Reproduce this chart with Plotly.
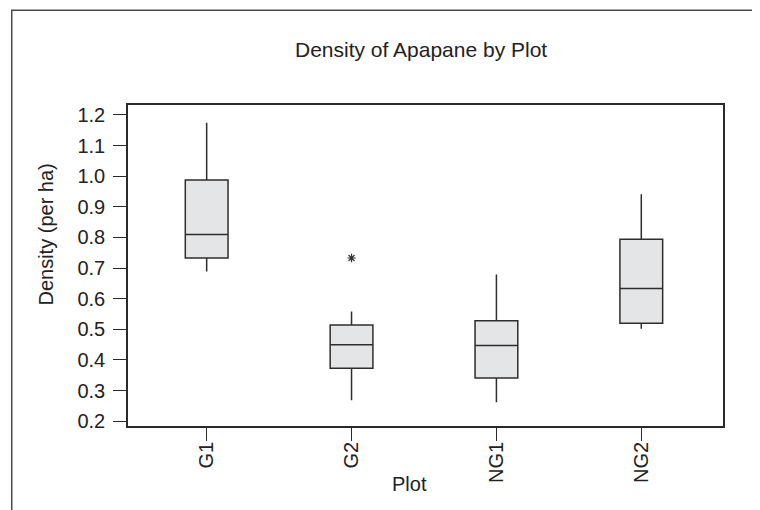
import plotly.graph_objects as go

# Data
plots = ["G1", "G2", "NG1", "NG2"]
lower_whisker = [0.689, 0.268, 0.262, 0.502]
q1_values = [0.733, 0.373, 0.341, 0.520]
median_values = [0.810, 0.450, 0.447, 0.633]
q3_values = [0.988, 0.514, 0.528, 0.794]
upper_whisker = [1.175, 0.558, 0.679, 0.941]
outlier_plots = ["G2"]
outlier_values = [0.733]
y_ticks = [0.2, 0.3, 0.4, 0.5, 0.6, 0.7, 0.8, 0.9, 1.0, 1.1, 1.2]

FONT = "Liberation Sans, Arial, Helvetica, sans-serif"
OFF = 8  # page body margin
W, H = 760 - OFF, 510 - OFF
# plot frame in page pixels
FL, FR, FT, FB = 128.3, 723.5, 105, 426.5
L, T = FL - OFF, FT - OFF
R, B = W - (FR - OFF), H - (FB - OFF)
pw, ph = W - L - R, H - T - B

def px_x(x):
    return (x - OFF - L) / pw

def px_y(y):
    return (H - B - (y - OFF)) / ph

fig = go.Figure()
fig.add_trace(go.Box(
    x=plots,
    q1=q1_values,
    median=median_values,
    q3=q3_values,
    lowerfence=lower_whisker,
    upperfence=upper_whisker,
    width=0.295,
    fillcolor="#e4e5e7",
    line=dict(color="#2e2e2e", width=1.5),
    whiskerwidth=0,
    boxpoints=False,
    hoverinfo="skip",
    showlegend=False,
))
fig.add_trace(go.Scatter(
    x=outlier_plots,
    y=outlier_values,
    mode="markers",
    marker=dict(symbol="asterisk-open", size=7, color="#333333",
                line=dict(color="#333333", width=1.2)),
    hoverinfo="skip",
    showlegend=False,
))

fig.update_layout(
    width=W, height=H,
    margin=dict(l=L, r=R, t=T, b=B, pad=0),
    paper_bgcolor="white",
    plot_bgcolor="white",
    font=dict(family=FONT, color="#222222", size=20),
    xaxis=dict(
        type="category",
        categoryorder="array",
        categoryarray=plots,
        range=[-0.543, 3.564],
        showline=True, mirror=True, linecolor="#2a2a2a", linewidth=1.6,
        showgrid=False, zeroline=False,
        ticks="outside", ticklen=13, tickwidth=1.2, tickcolor="#2a2a2a",
        tickangle=-90,
        tickfont=dict(size=20, family=FONT, color="#222222"),
        ticklabelstandoff=-7,
    ),
    yaxis=dict(
        range=[0.1843, 1.2326],
        tickvals=y_ticks,
        ticktext=[f"{v:.1f}" for v in y_ticks],
        showline=True, mirror=True, linecolor="#2a2a2a", linewidth=1.6,
        showgrid=False, zeroline=False,
        ticks="outside", ticklen=13, tickwidth=1.2, tickcolor="#2a2a2a",
        tickfont=dict(size=20, family=FONT, color="#222222"),
        ticklabelstandoff=4,
    ),
    shapes=[dict(
        type="rect", xref="paper", yref="paper",
        x0=px_x(12), x1=px_x(780), y0=px_y(530), y1=px_y(10),
        line=dict(color="#4a4a4a", width=1.5), fillcolor="rgba(0,0,0,0)",
        layer="below",
    )],
    annotations=[
        dict(text="Density of Apapane by Plot", xref="paper", yref="paper",
             x=px_x(421), y=px_y(49.5), xanchor="center", yanchor="middle",
             showarrow=False, font=dict(size=21, family=FONT, color="#222222")),
        dict(text="Density (per ha)", xref="paper", yref="paper",
             x=px_x(46), y=px_y(235), xanchor="center", yanchor="middle",
             textangle=-90, showarrow=False,
             font=dict(size=20, family=FONT, color="#222222")),
        dict(text="Plot", xref="paper", yref="paper",
             x=px_x(410), y=px_y(485), xanchor="center", yanchor="middle",
             showarrow=False, font=dict(size=20, family=FONT, color="#222222")),
    ],
)

fig.write_html("out.html")
